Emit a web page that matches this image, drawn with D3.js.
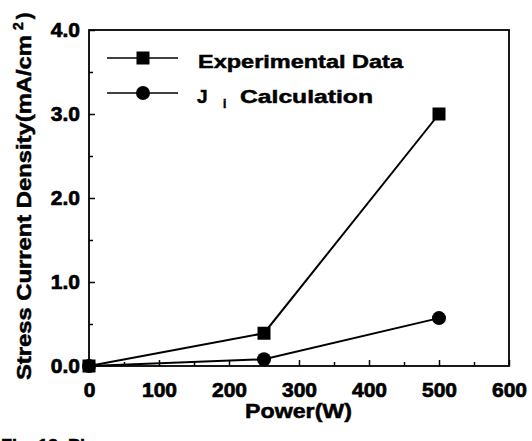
<!DOCTYPE html>
<html>
<head>
<meta charset="utf-8">
<script src="https://cdn.jsdelivr.net/npm/d3@7"></script>
<style>
  body { margin: 0; background: #fff; }
  text { font-family: "Liberation Sans", Arial, sans-serif; font-weight: bold; fill: #000; stroke: #000; stroke-width: 0.5px; }
</style>
</head>
<body>
<div id="d3container"></div>
<script>
// data
const power = [0, 250, 500];
const experimental = [0.0, 0.39, 3.0];
const calculation = [0.0, 0.08, 0.57];
const xTicks = [0, 100, 200, 300, 400, 500, 600];
const yTicks = [0.0, 1.0, 2.0, 3.0, 4.0];

const margin = { top: 30, right: 23, bottom: 75, left: 89 };
const width = 532 - margin.left - margin.right;
const height = 441 - margin.top - margin.bottom;

const svg = d3.select("#d3container")
    .append("svg")
    .attr("width", 532)
    .attr("height", 441);

const g = svg.append("g")
    .attr("transform", `translate(${margin.left},${margin.top})`);

const x = d3.scaleLinear().domain([0, 600]).range([0, width]);
const y = d3.scaleLinear().domain([0, 4]).range([height, 0]);

// 坐标框
g.append("rect")
    .attr("width", width)
    .attr("height", height)
    .attr("fill", "none")
    .attr("stroke", "#000")
    .attr("stroke-width", 1.8);

// X 轴 (刻度朝内)
const xAxis = g.append("g")
    .attr("transform", `translate(0,${height})`)
    .call(d3.axisBottom(x).tickValues(xTicks).tickSize(-6).tickPadding(16).tickFormat(d3.format("d")));
xAxis.select(".domain").remove();
xAxis.selectAll("text").style("font-size", "21px").style("stroke-width", 0.7);

g.append("g")
    .attr("transform", `translate(0,${height})`)
    .call(d3.axisBottom(x).tickValues(d3.range(50, 600, 100)).tickSize(-4).tickFormat(""))
    .select(".domain").remove();

// Y 轴
const yAxis = g.append("g")
    .call(d3.axisLeft(y).tickValues(yTicks).tickSize(-6).tickPadding(9).tickFormat(d3.format(".1f")));
yAxis.select(".domain").remove();
yAxis.selectAll("text").style("font-size", "21px").style("stroke-width", 0.7);

g.append("g")
    .call(d3.axisLeft(y).tickValues([0.5, 1.5, 2.5, 3.5]).tickSize(-4).tickFormat(""))
    .select(".domain").remove();

g.selectAll(".tick line").attr("stroke", "#000").attr("stroke-width", 1.5);

// 轴标签
svg.append("text")
    .attr("x", 245)
    .attr("y", 418)
    .attr("textLength", 107)
    .attr("lengthAdjust", "spacingAndGlyphs")
    .style("font-size", "20px")
    .text("Power(W)");

const yl = svg.append("text")
    .attr("transform", `translate(31,380) rotate(-90)`)
    .style("font-size", "20px");
yl.append("tspan").attr("textLength", 345).attr("lengthAdjust", "spacingAndGlyphs").text("Stress Current Density(mA/cm");
yl.append("tspan").attr("dy", -8).attr("dx", 5).style("font-size", "14px").text("2");
yl.append("tspan").attr("dy", 8).attr("dx", 3).text(")");

// 折线
const line = d3.line().x(d => x(d[0])).y(d => y(d[1]));

const expData = power.map((p, i) => [p, experimental[i]]);
const calcData = power.map((p, i) => [p, calculation[i]]);

g.append("path")
    .datum(expData)
    .attr("d", line)
    .attr("fill", "none")
    .attr("stroke", "#000")
    .attr("stroke-width", 2);

g.append("path")
    .datum(calcData)
    .attr("d", line)
    .attr("fill", "none")
    .attr("stroke", "#000")
    .attr("stroke-width", 2);

const sq = 13;
g.selectAll(".sq")
    .data(expData)
    .enter().append("rect")
    .attr("x", d => x(d[0]) - sq / 2)
    .attr("y", d => y(d[1]) - sq / 2)
    .attr("width", sq)
    .attr("height", sq)
    .attr("fill", "#000");

g.selectAll(".ci")
    .data(calcData)
    .enter().append("circle")
    .attr("cx", d => x(d[0]))
    .attr("cy", d => y(d[1]))
    .attr("r", 7)
    .attr("fill", "#000");

// 图例
const leg = svg.append("g");
[58, 93].forEach((ly, i) => {
    leg.append("line")
        .attr("x1", 107).attr("x2", 178)
        .attr("y1", ly).attr("y2", ly)
        .attr("stroke", "#000").attr("stroke-width", 1.6);
    if (i === 0) {
        leg.append("rect").attr("x", 143 - sq / 2).attr("y", ly - sq / 2)
            .attr("width", sq).attr("height", sq).attr("fill", "#000");
    } else {
        leg.append("circle").attr("cx", 143).attr("cy", ly).attr("r", 7).attr("fill", "#000");
    }
});
leg.append("text")
    .attr("x", 198).attr("y", 68)
    .attr("textLength", 205).attr("lengthAdjust", "spacingAndGlyphs")
    .style("font-size", "19px").text("Experimental Data");
leg.append("text").attr("x", 197).attr("y", 103).style("font-size", "19px").text("J");
leg.append("text").attr("x", 223).attr("y", 108).style("font-size", "12px").text("i");
leg.append("text")
    .attr("x", 240).attr("y", 103)
    .attr("textLength", 133).attr("lengthAdjust", "spacingAndGlyphs")
    .style("font-size", "19px").text("Calculation");

// 图注 (被裁切)
svg.append("text")
    .attr("x", 1)
    .attr("y", 452)
    .style("font-size", "18px")
    .text("Fig. 13.  Pl");
</script>
</body>
</html>
